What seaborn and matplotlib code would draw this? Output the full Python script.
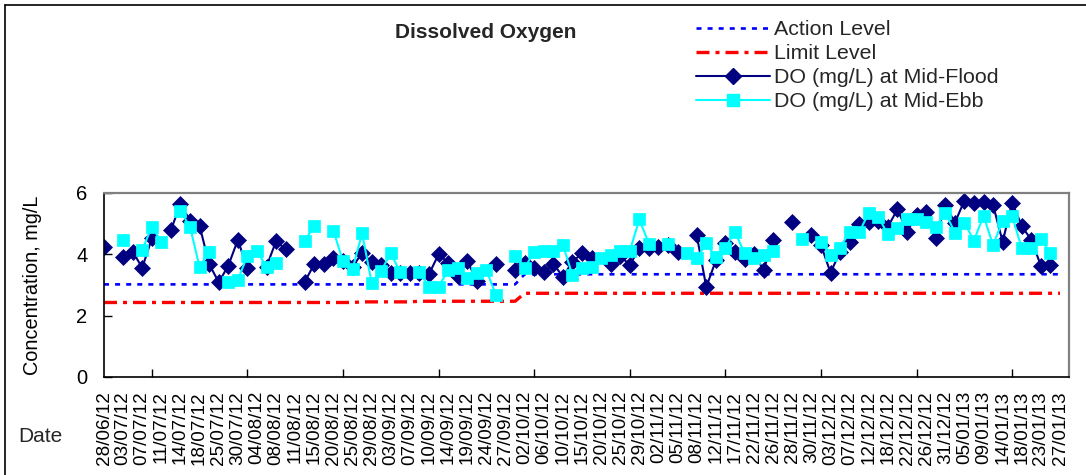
import numpy as np
import pandas as pd
import matplotlib
matplotlib.use("Agg")
import matplotlib.pyplot as plt
import seaborn as sns
from matplotlib.lines import Line2D

nan = np.nan

# ---------------- data ----------------
date_labels = [
    "28/06/12", "03/07/12", "07/07/12", "11/07/12", "14/07/12", "18/07/12", "25/07/12",
    "30/07/12", "04/08/12", "08/08/12", "11/08/12", "15/08/12", "20/08/12", "25/08/12",
    "29/08/12", "03/09/12", "07/09/12", "10/09/12", "14/09/12", "19/09/12", "24/09/12",
    "27/09/12", "02/10/12", "06/10/12", "10/10/12", "15/10/12", "20/10/12", "25/10/12",
    "29/10/12", "02/11/12", "05/11/12", "08/11/12", "12/11/12", "17/11/12", "22/11/12",
    "26/11/12", "28/11/12", "30/11/12", "03/12/12", "07/12/12", "12/12/12", "18/12/12",
    "22/12/12", "26/12/12", "31/12/12", "05/01/13", "09/01/13", "14/01/13", "18/01/13",
    "23/01/13", "27/01/13",
]

# one value per sampling category (101 categories, every 2nd one labelled)
do_mid_flood = [
    4.25, nan, 3.90, 4.09, 3.56, 4.52, nan, 4.79, 5.65, 5.10,
    4.93, 3.68, 3.09, 3.63, 4.47, 3.54, nan, 3.60, 4.43, 4.16,
    nan, 3.11, 3.68, 3.68, 3.87, 3.78, 3.60, 4.04, 3.74, 3.66,
    3.40, 3.40, 3.40, 3.40, 3.36, 4.00, 3.73, 3.29, 3.79, 3.13,
    nan, 3.67, nan, 3.50, 3.72, 3.54, 3.42, 3.69, 3.27, 3.76,
    4.03, 3.87, nan, 3.70, 3.95, 3.65, 4.20, 4.20, 4.23, 4.30,
    4.09, nan, 4.63, 2.93, 3.80, 4.38, 4.09, 3.84, 4.00, 3.49,
    4.47, nan, 5.07, nan, 4.63, 4.30, 3.40, 4.09, 4.41, 4.99,
    5.07, 5.10, 4.90, 5.47, 4.74, 5.28, 5.39, 4.52, 5.62, 5.03,
    5.75, 5.66, 5.72, 5.61, 4.41, 5.69, 4.92, 4.47, 3.63, 3.65,
    nan,
]

do_mid_ebb = [
    nan, nan, 4.47, nan, 4.14, 4.90, 4.41, nan, 5.41, 4.90,
    3.58, 4.09, nan, 3.09, 3.17, 3.95, 4.10, 3.60, 3.72, nan,
    nan, 4.45, 4.92, nan, 4.77, 3.77, 3.53, 4.68, 3.07, 3.47,
    4.03, 3.41, nan, 3.41, 2.94, 2.94, 3.49, 3.57, 3.22, 3.40,
    3.49, 2.67, nan, 3.95, 3.55, 4.09, 4.12, 4.10, 4.30, 3.33,
    3.57, 3.58, 3.87, 3.98, 4.11, 4.11, 5.14, 4.34, nan, 4.34,
    nan, 4.05, 3.87, 4.36, 3.90, 4.22, 4.74, 4.03, 3.87, 3.98,
    4.11, nan, nan, 4.50, nan, 4.41, 3.98, 4.22, 4.74, 4.72,
    5.36, 5.21, 4.66, 4.85, 5.15, 5.14, 5.04, 4.90, 5.36, 4.71,
    5.03, 4.45, 5.26, 4.30, 5.10, 5.25, 4.20, 4.20, 4.49, 4.05,
    nan,
]

action_level = [
    3.02, 3.02, 3.02, 3.02, 3.02, 3.02, 3.02, 3.02, 3.02, 3.02,
    3.02, 3.02, 3.02, 3.02, 3.02, 3.02, 3.02, 3.02, 3.02, 3.02,
    3.02, 3.02, 3.02, 3.02, 3.02, 3.02, 3.02, 3.02, 3.02, 3.02,
    3.02, 3.02, 3.02, 3.02, 3.02, 3.02, 3.02, 3.02, 3.02, 3.02,
    3.02, 3.02, 3.02, 3.02, 3.35, 3.35, 3.35, 3.35, 3.35, 3.35,
    3.35, 3.35, 3.35, 3.35, 3.35, 3.35, 3.35, 3.35, 3.35, 3.35,
    3.35, 3.35, 3.35, 3.35, 3.35, 3.35, 3.35, 3.35, 3.35, 3.35,
    3.35, 3.35, 3.35, 3.35, 3.35, 3.35, 3.35, 3.35, 3.35, 3.35,
    3.35, 3.35, 3.35, 3.35, 3.35, 3.35, 3.35, 3.35, 3.35, 3.35,
    3.35, 3.35, 3.35, 3.35, 3.35, 3.35, 3.35, 3.35, 3.35, 3.35,
    3.35,
]

limit_level = [
    2.43, 2.43, 2.43, 2.43, 2.43, 2.43, 2.43, 2.43, 2.43, 2.43,
    2.43, 2.43, 2.43, 2.43, 2.43, 2.43, 2.43, 2.43, 2.43, 2.43,
    2.43, 2.43, 2.43, 2.43, 2.43, 2.43, 2.43, 2.45, 2.45, 2.45,
    2.45, 2.45, 2.45, 2.47, 2.47, 2.47, 2.47, 2.47, 2.47, 2.47,
    2.47, 2.47, 2.47, 2.47, 2.73, 2.73, 2.73, 2.73, 2.73, 2.73,
    2.73, 2.73, 2.73, 2.73, 2.73, 2.73, 2.73, 2.73, 2.73, 2.73,
    2.73, 2.73, 2.73, 2.73, 2.73, 2.73, 2.73, 2.73, 2.73, 2.73,
    2.73, 2.73, 2.73, 2.73, 2.73, 2.73, 2.73, 2.73, 2.73, 2.73,
    2.73, 2.73, 2.73, 2.73, 2.73, 2.73, 2.73, 2.73, 2.73, 2.73,
    2.73, 2.73, 2.73, 2.73, 2.73, 2.73, 2.73, 2.73, 2.73, 2.73,
    2.73,
]

series_names = ["Action Level", "Limit Level",
                "DO (mg/L) at Mid-Flood", "DO (mg/L) at Mid-Ebb"]
yticks = [0, 2, 4, 6]

# ---------------- styling ----------------
sns.set_theme(style="white")
plt.rcParams["font.family"] = ["Liberation Sans", "DejaVu Sans"]

W, H = 1086, 475
fig = plt.figure(figsize=(W / 100, H / 100), dpi=100)
fig.patch.set_facecolor("white")

L, R, T, B = 104, 1069, 193, 377
ax = fig.add_axes([L / W, (H - B) / H, (R - L) / W, (B - T) / H])
ax.set_facecolor("white")


def to_frame(values):
    v = np.asarray(values, dtype=float)
    cat = np.arange(len(v))
    seg = np.cumsum(np.isnan(v))
    df = pd.DataFrame({"cat": cat, "value": v, "seg": seg})
    return df.dropna()


styles = [
    dict(color="#0000FF", lw=1.9, ls=(0, (1.9, 2.3))),
    dict(color="#FF0000", lw=2.4, ls=(0, (3.9, 1.8, 1.2, 1.8))),
    dict(color="#000080", lw=1.5, ls="-", marker="D", ms=7.8,
         mec="#000080", mew=0.5),
    dict(color="#00FFFF", lw=1.5, ls="-", marker="s", ms=9.3,
         mec="#00FFFF", mew=0.5),
]

all_series = [action_level, limit_level, do_mid_flood, do_mid_ebb]
for vals, st in zip(all_series, styles):
    df = to_frame(vals)
    kws = dict(linewidth=st["lw"], linestyle=st["ls"])
    if "marker" in st:
        kws.update(marker=st["marker"], markersize=st["ms"],
                   markeredgecolor=st["mec"], markeredgewidth=st["mew"])
    sns.lineplot(data=df, x="cat", y="value", units="seg", estimator=None,
                 sort=False, color=st["color"], ax=ax, legend=False, **kws)

# ---------------- axes ----------------
ncat = len(do_mid_flood)
ax.set_xlim(0, (ncat - 1) + 9 / 9.56)
ax.set_ylim(0, 6)
ax.set_yticks(yticks)
ax.set_yticklabels([str(t) for t in yticks])
ax.tick_params(axis="y", direction="in", length=6, width=1, pad=12,
               labelsize=14.5, colors="black", left=True)

ax.set_xticks(np.arange(0, ncat, 2))
ax.set_xticklabels(date_labels, rotation=90)
ax.set_xticks(np.arange(0, ncat, 5), minor=True)
ax.tick_params(axis="x", which="major", length=0, pad=10, labelsize=13.6,
               colors="black")
ax.tick_params(axis="x", which="minor", direction="in", length=6, width=1,
               bottom=True, color="black")

ax.set_xlabel("")
ax.set_ylabel("Concentration, mg/L", fontsize=14.3, color="black", va="center")
ax.yaxis.set_label_coords((33 - L) / (R - L), 0.5)

for side in ["left", "bottom"]:
    ax.spines[side].set_color("black")
    ax.spines[side].set_linewidth(1.2)
for side in ["top", "right"]:
    ax.spines[side].set_color("#808080")
    ax.spines[side].set_linewidth(1.6)
    ax.spines[side].set_visible(True)
ax.grid(False)

fig.text(40 / W, 1 - 437 / H, "Date", fontsize=15, ha="center", va="center")
fig.text(486 / W, 1 - 33 / H, "Dissolved Oxygen", fontsize=15,
         fontweight="bold", ha="center", va="center")

handles = []
for st in styles:
    h = Line2D([], [], color=st["color"], lw=st["lw"], ls=st["ls"])
    if "marker" in st:
        h.set_marker(st["marker"])
        h.set_markersize(st["ms"])
        h.set_markeredgecolor(st["mec"])
    handles.append(h)
fig.legend(handles, series_names, loc="upper left",
           bbox_to_anchor=(696 / W, 1 - 20 / H), frameon=False,
           handlelength=3.45, handletextpad=0.2, labelspacing=0.24,
           borderpad=0, borderaxespad=0, fontsize=15.4, numpoints=1)

# outer chart frame (left and top edges visible)
fig.add_artist(Line2D([5 / W, 1.0], [1 - 5 / H, 1 - 5 / H],
                      transform=fig.transFigure, color="black", lw=1.2))
fig.add_artist(Line2D([5 / W, 5 / W], [0.0, 1 - 5 / H],
                      transform=fig.transFigure, color="black", lw=1.2))

fig.savefig("out.png", dpi=100, facecolor="white")
